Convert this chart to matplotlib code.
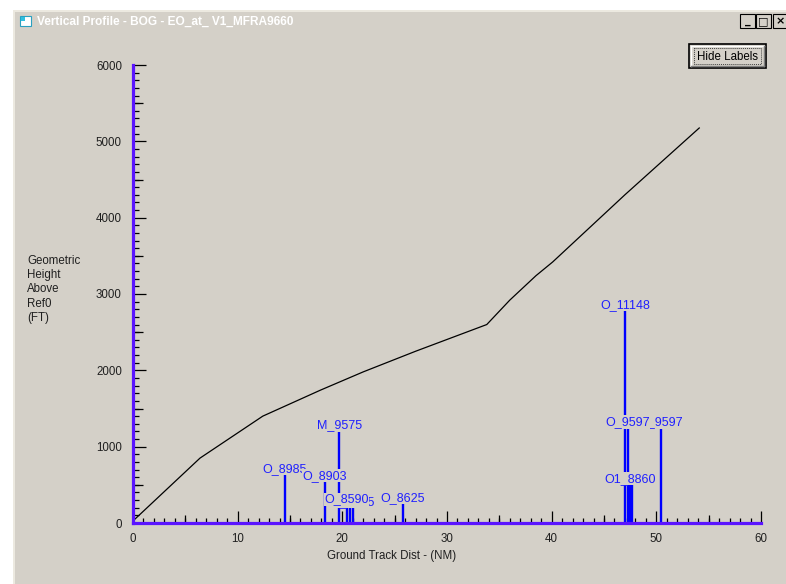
import matplotlib
matplotlib.use('Agg')
import matplotlib.pyplot as plt
import numpy as np
from matplotlib.patches import Rectangle
from matplotlib.ticker import NullLocator

W, H = 786, 584
DPI = 100

# ---- data ----
track_dist = [0.1, 6.4, 12.4, 17.9, 22.0, 27.0, 33.8, 36.0, 38.5, 40.1, 47.0, 54.1]
track_height = [40, 850, 1400, 1740, 1980, 2250, 2600, 2920, 3240, 3420, 4300, 5175]

# listed in drawing order (later labels cover earlier ones)
obs_names = ["O_8985", "O_8903", "M_9575", "", "O_8595", "O_8590", "O_8625",
             "O_11148", "O_9597", "O_9597", "O1_8860", ""]
obs_dist = [14.5, 18.3, 19.7, 20.7, 21.0, 20.4, 25.8, 47.0, 50.4, 47.25, 47.5, 47.7]
obs_height = [630, 540, 1205, 200, 200, 230, 250, 2780, 1245, 1245, 500, 500]

x_ticks = [0, 10, 20, 30, 40, 50, 60]
y_ticks = [0, 1000, 2000, 3000, 4000, 5000, 6000]

title = "Vertical Profile - BOG - EO_at_ V1_MFRA9660"
x_label = "Ground Track Dist - (NM)"
y_label = "Geometric\nHeight\nAbove\nRef0\n(FT)"

GRAY = '#D4D0C8'
AXIS = '#5a14ff'
FONT = ['Liberation Sans', 'DejaVu Sans']
plt.rcParams['font.family'] = FONT

fig = plt.figure(figsize=(W / DPI, H / DPI), dpi=DPI, facecolor='white')

# ---- window chrome (pixel coordinates) ----
bg = fig.add_axes([0, 0, 1, 1], zorder=-5)
bg.set_xlim(0, W)
bg.set_ylim(H, 0)
bg.axis('off')
bg.add_patch(Rectangle((13, 10), W - 13, H - 10, facecolor='#ECE9E0', edgecolor='none'))
bg.add_patch(Rectangle((15, 12), W - 15, H - 12, facecolor=GRAY, edgecolor='none'))
grad = np.linspace(0, 1, 256).reshape(1, -1)
c0 = np.array([0x0A, 0x24, 0x6A]) / 255
c1 = np.array([0xA6, 0xCA, 0xF0]) / 255
img = (c0[None, None, :] * (1 - grad[..., None]) + c1[None, None, :] * grad[..., None])
bg.imshow(img, extent=(16, W, 31, 12), aspect='auto', interpolation='bilinear')
bg.set_xlim(0, W)
bg.set_ylim(H, 0)
# icon
bg.add_patch(Rectangle((20, 16), 11, 10, facecolor='white', edgecolor='#2aa0c0', lw=0.8))
bg.add_patch(Rectangle((21, 17), 4, 4, facecolor='#30c0e0', edgecolor='none'))
bg.text(37, 22, title, color='white', fontsize=8.6, fontweight='bold', va='center', ha='left',
        family=FONT)
# caption buttons
for bx, sym in [(740, '_'), (756, '□'), (773, '×')]:
    bg.add_patch(Rectangle((bx, 14), 15, 14, facecolor=GRAY, edgecolor='black', lw=0.8))
    bg.text(bx + 7.5, 21.5, sym, fontsize=8, ha='center', va='center', color='black',
            fontweight='bold', family=['DejaVu Sans'])
# Hide Labels button
bg.add_patch(Rectangle((689, 44), 77, 24, facecolor=GRAY, edgecolor='black', lw=1.2))
bg.plot([691, 764], [46, 46], color='white', lw=1)
bg.plot([691, 691], [46, 66], color='white', lw=1)
bg.plot([691, 764], [66, 66], color='#808080', lw=1)
bg.plot([764, 764], [46, 66], color='#808080', lw=1)
bg.add_patch(Rectangle((694, 48), 67, 16, facecolor='none', edgecolor='#404040', lw=0.7,
                       linestyle=(0, (1, 1))))
bg.text(727.5, 56.5, "Hide Labels", fontsize=8.3, ha='center', va='center', color='black')

# axis titles
bg.text(27, 255, y_label, fontsize=8.3, ha='left', va='top', color='#202020', linespacing=1.25)
bg.text(392, 556, x_label, fontsize=8.3, ha='center', va='center', color='#202020')

# ---- plot ----
ax = fig.add_axes([133 / W, (H - 523) / H, (761 - 133) / W, (523 - 65) / H])
ax.set_facecolor('none')
ax.set_xlim(0, 60)
ax.set_ylim(0, 6000)
for s in ['top', 'right']:
    ax.spines[s].set_visible(False)
for s in ['left', 'bottom']:
    ax.spines[s].set_color(AXIS)
    ax.spines[s].set_linewidth(2.3)
    ax.spines[s].set_zorder(4)

ax.set_xticks(x_ticks)
ax.set_xticks(np.arange(0, 61, 1), minor=True)
ax.set_yticks(y_ticks)
ax.set_yticks(np.arange(0, 6001, 100), minor=True)
ax.tick_params(axis='x', which='major', direction='in', length=8.8, width=0.9, color='black',
               pad=7, labelsize=8.3, labelcolor='#202020')
ax.tick_params(axis='x', which='minor', direction='in', length=3.8, width=0.9, color='black')
ax.tick_params(axis='y', which='major', direction='in', length=9.4, width=0.9, color='black',
               pad=8, labelsize=8.3, labelcolor='#202020')
ax.tick_params(axis='y', which='minor', direction='in', length=4.6, width=0.9, color='black')

secx = ax.secondary_xaxis('bottom')
secx.set_xticks(np.arange(5, 60, 10))
secx.xaxis.set_minor_locator(NullLocator())
secx.tick_params(direction='in', length=5.9, width=0.9, color='black', labelbottom=False)
secx.spines['bottom'].set_visible(False)

secy = ax.secondary_yaxis('left')
secy.set_yticks(np.arange(500, 6000, 1000))
secy.yaxis.set_minor_locator(NullLocator())
secy.tick_params(direction='in', length=7.3, width=0.9, color='black', labelleft=False)
secy.spines['left'].set_visible(False)

# profile line
ax.plot(track_dist, track_height, color='black', lw=0.9, zorder=3)

# obstacle stems
ax.vlines(obs_dist, 0, obs_height, colors='#0000ff', lw=1.7, zorder=2)
for i, (name, d, h) in enumerate(zip(obs_names, obs_dist, obs_height)):
    if not name:
        continue
    ax.annotate(name, (d, h), xytext=(0, 2.2), textcoords='offset points',
                ha='center', va='baseline', fontsize=9, color='#2020ff', zorder=5 + i * 0.01,
                bbox=dict(boxstyle='square,pad=0.05', facecolor=GRAY, edgecolor='none'))

fig.savefig('out.png', dpi=DPI, facecolor='white')
